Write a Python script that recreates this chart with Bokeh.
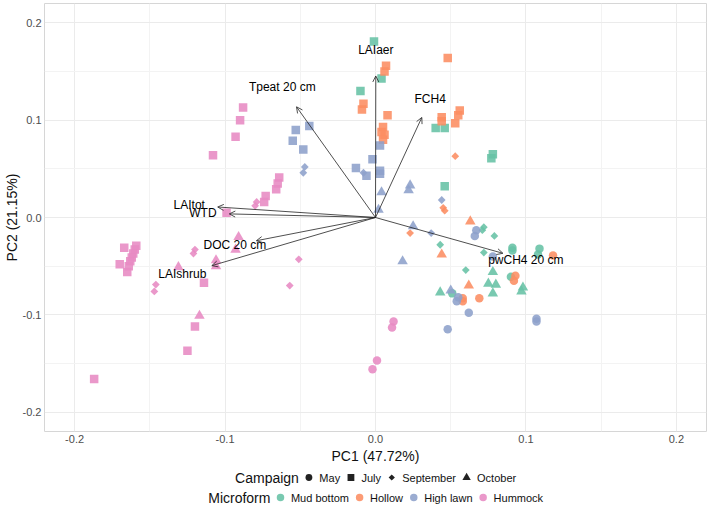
import math

from bokeh.core.properties import value
from bokeh.embed import file_html
from bokeh.layouts import column
from bokeh.models import (Arrow, ColumnDataSource, FixedTicker, OpenHead,
                          PrintfTickFormatter, Range1d)
from bokeh.plotting import figure
from bokeh.resources import INLINE

# ---------------------------------------------------------------- data
campaigns = ["May", "July", "September", "October"]
microforms = ["Mud bottom", "Hollow", "High lawn", "Hummock"]
microform_colors = ["#66C2A5", "#FC8D62", "#8DA0CB", "#E78AC3"]

mud_pc1 = [-0.001, 0.004, -0.010, 0.040, 0.046, 0.078, 0.077, 0.046,
           0.072, 0.071, 0.079, 0.043, 0.072, 0.060,
           0.091, 0.091, 0.109, 0.108, 0.090, 0.051,
           0.078, 0.075, 0.080, 0.078, 0.098, 0.097, 0.043]
mud_pc2 = [0.181, 0.143, 0.130, 0.092, 0.092, 0.065, 0.061, 0.032,
           -0.010, -0.013, -0.019, -0.028, -0.036, -0.054,
           -0.031, -0.034, -0.032, -0.038, -0.061, -0.078,
           -0.056, -0.068, -0.069, -0.078, -0.072, -0.076, -0.077]
mud_campaign = ["July", "July", "July", "July", "July", "July", "July", "July",
                "September", "September", "September", "September", "September", "September",
                "May", "May", "May", "May", "May", "May",
                "October", "October", "October", "October", "October", "October", "October"]

hollow_pc1 = [0.048, 0.007, 0.006, -0.008, -0.009, 0.008, 0.005, 0.004, 0.006, 0.005,
              0.044, 0.044, 0.056, 0.055, 0.053,
              0.053, 0.045, 0.046, 0.023,
              0.063, 0.044, 0.062,
              0.118, 0.093, 0.092, 0.058, 0.058, 0.069]
hollow_pc2 = [0.164, 0.156, 0.150, 0.117, 0.111, 0.105, 0.093, 0.088, 0.085, 0.080,
              0.103, 0.099, 0.110, 0.105, 0.097,
              0.063, 0.010, 0.007, -0.016,
              -0.004, -0.038, -0.070,
              -0.039, -0.060, -0.065, -0.083, -0.086, -0.083]
hollow_campaign = ["July", "July", "July", "July", "July", "July", "July", "July", "July", "July",
                   "July", "July", "July", "July", "July",
                   "September", "September", "September", "September",
                   "October", "October", "October",
                   "May", "May", "May", "May", "May", "May"]

lawn_pc1 = [-0.055, -0.053, -0.044, -0.048, 0.003, -0.002, -0.013, -0.006, 0.003, 0.003,
            -0.047, -0.048, -0.008, 0.044, 0.037,
            0.004, 0.023, 0.022, 0.002, 0.025, 0.018, 0.050,
            0.067, 0.066, 0.078, 0.054, 0.055, 0.062, 0.048, 0.107, 0.107]
lawn_pc2 = [0.079, 0.090, 0.094, 0.070, 0.074, 0.060, 0.051, 0.043, 0.048, 0.045,
            0.052, 0.046, 0.046, 0.018, -0.016,
            0.026, 0.033, 0.028, 0.008, -0.009, -0.045, -0.075,
            -0.013, -0.019, -0.040, -0.086, -0.082, -0.098, -0.115, -0.104, -0.107]
lawn_campaign = ["July", "July", "July", "July", "July", "July", "July", "July", "July", "July",
                 "September", "September", "September", "September", "September",
                 "October", "October", "October", "October", "October", "October", "October",
                 "May", "May", "May", "May", "May", "May", "May", "May", "May"]

hummock_pc1 = [-0.088, -0.090, -0.093, -0.108, -0.064, -0.065, -0.066, -0.073, -0.074, -0.099,
               -0.167, -0.159, -0.160, -0.161, -0.162, -0.163, -0.170, -0.164, -0.165,
               -0.114, -0.120, -0.125, -0.187,
               -0.079, -0.080, -0.120, -0.121, -0.146, -0.147, -0.051, -0.057,
               -0.091, -0.093, -0.106, -0.106, -0.131, -0.117,
               0.012, 0.011, 0.001, -0.002]
hummock_pc2 = [0.113, 0.100, 0.083, 0.064, 0.041, 0.035, 0.029, 0.022, 0.016, 0.005,
               -0.031, -0.029, -0.033, -0.037, -0.041, -0.045, -0.048, -0.050, -0.056,
               -0.067, -0.112, -0.137, -0.166,
               0.016, 0.012, -0.033, -0.037, -0.069, -0.076, -0.043, -0.070,
               -0.020, -0.033, -0.044, -0.050, -0.051, -0.101,
               -0.107, -0.113, -0.147, -0.156]
hummock_campaign = ["July", "July", "July", "July", "July", "July", "July", "July", "July", "July",
                    "July", "July", "July", "July", "July", "July", "July", "July", "July",
                    "July", "July", "July", "July",
                    "September", "September", "September", "September", "September", "September",
                    "September", "September",
                    "October", "October", "October", "October", "October", "October",
                    "May", "May", "May", "May"]

# variable loadings (arrow tips)
variables = ["LAIaer", "Tpeat 20 cm", "FCH4", "LAItot", "WTD",
             "DOC 20 cm", "LAIshrub", "pwCH4 20 cm"]
load_pc1 = [0.0002, -0.0525, 0.0308, -0.1049, -0.0972, -0.0792, -0.1088, 0.0847]
load_pc2 = [0.1455, 0.1138, 0.1029, 0.0108, 0.0037, -0.0239, -0.0495, -0.0368]

tick_values = [-0.2, -0.1, 0.0, 0.1, 0.2]
minor_tick_values = [-0.15, -0.05, 0.05, 0.15]

# ---------------------------------------------------------------- styling
FONT = "Liberation Sans"
LABEL_SCALE = 1.18
marker_style = {
    "May": dict(marker="circle", size=8.5, angle=0.0),
    "July": dict(marker="square", size=8.5, angle=0.0),
    "September": dict(marker="square", size=5.5, angle=math.pi / 4),
    "October": dict(marker="triangle", size=10.5, angle=0.0),
}

W, H_MAIN, H_LEG = 709, 466, 40
BORDER_L, BORDER_R = 40, 3

p = figure(width=W, height=H_MAIN,
           x_range=Range1d(-0.22, 0.22), y_range=Range1d(-0.22, 0.22),
           output_backend="svg", toolbar_location=None,
           min_border_left=BORDER_L, min_border_right=BORDER_R, min_border_top=3,
           min_border_bottom=30)
p.outline_line_color = "#d6d6d6"
p.outline_line_width = 1
p.background_fill_color = "white"
p.border_fill_color = "white"

for ax in (p.xaxis, p.yaxis):
    ax.ticker = FixedTicker(ticks=tick_values, minor_ticks=minor_tick_values)
    ax.formatter = PrintfTickFormatter(format="%.1f")
    ax.axis_line_color = None
    ax.major_tick_line_color = None
    ax.minor_tick_line_color = None
    ax.major_tick_out = 0
    ax.major_tick_in = 0
    ax.minor_tick_out = 0
    ax.minor_tick_in = 0
    ax.major_label_text_font = FONT
    ax.major_label_text_font_size = "11px"
    ax.major_label_text_color = "#4d4d4d"
    ax.major_label_standoff = 3
    ax.axis_label_text_font = FONT
    ax.axis_label_text_font_size = "14px"
    ax.axis_label_text_font_style = "normal"
    ax.axis_label_text_color = "#111111"
    ax.axis_label_standoff = 2
p.xaxis.axis_label = "PC1 (47.72%)"
p.yaxis.axis_label = "PC2 (21.15%)"
p.yaxis.major_label_standoff = 3
p.yaxis.axis_label_standoff = 0

for g in (p.xgrid, p.ygrid):
    g.grid_line_color = "#ebebeb"
    g.grid_line_width = 1
    g.minor_grid_line_color = "#f3f3f3"
    g.minor_grid_line_width = 1

# ---------------------------------------------------------------- points
groups = [
    ("Mud bottom", mud_pc1, mud_pc2, mud_campaign),
    ("Hollow", hollow_pc1, hollow_pc2, hollow_campaign),
    ("High lawn", lawn_pc1, lawn_pc2, lawn_campaign),
    ("Hummock", hummock_pc1, hummock_pc2, hummock_campaign),
]
for name, xs, ys, camps in groups:
    color = microform_colors[microforms.index(name)]
    for camp in campaigns:
        idx = [i for i, c in enumerate(camps) if c == camp]
        if not idx:
            continue
        src = ColumnDataSource(dict(x=[xs[i] for i in idx], y=[ys[i] for i in idx]))
        st = marker_style[camp]
        p.scatter("x", "y", source=src, marker=st["marker"], size=st["size"],
                  angle=st["angle"], fill_color=color, fill_alpha=0.88,
                  line_color=None)

# ---------------------------------------------------------------- loadings
arrow_src = ColumnDataSource(dict(x0=[0.0] * len(load_pc1), y0=[0.0] * len(load_pc2),
                                  x1=load_pc1, y1=load_pc2))
p.add_layout(Arrow(end=OpenHead(size=6, line_color="#222222", line_width=0.8),
                   x_start="x0", y_start="y0", x_end="x1", y_end="y1",
                   source=arrow_src, line_color="#222222", line_width=0.8))

label_src = ColumnDataSource(dict(x=[v * LABEL_SCALE for v in load_pc1],
                                  y=[v * LABEL_SCALE for v in load_pc2],
                                  text=variables))
p.text("x", "y", text="text", source=label_src, text_align="center",
       text_baseline="middle", text_font=value(FONT), text_font_size="12px",
       text_color="#000000")

# ---------------------------------------------------------------- legend strip
ARIAL = {'C': 722, 'a': 556, 'm': 833, 'p': 556, 'i': 222, 'g': 556, 'n': 556,
         'M': 833, 'y': 500, 'J': 500, 'u': 556, 'l': 222, 'S': 667, 'e': 556,
         't': 278, 'b': 556, 'r': 333, 'O': 778, 'c': 500, 'o': 556, 'f': 278,
         'd': 556, ' ': 278, 'H': 722, 'w': 722, 'h': 556, 'k': 500}


def text_width(s, px):
    return sum(ARIAL.get(ch, 556) for ch in s) * px / 1000.0


# the strip's frame lines up with the plot frame, so its x units are pixels
lf = figure(width=W, height=H_LEG,
            x_range=Range1d(BORDER_L, W - BORDER_R), y_range=Range1d(0, H_LEG),
            output_backend="svg", toolbar_location=None,
            x_axis_type=None, y_axis_type=None,
            min_border_left=BORDER_L, min_border_right=BORDER_R,
            min_border_top=0, min_border_bottom=0)
lf.outline_line_color = None
lf.grid.visible = False

panel_center = BORDER_L + (W - BORDER_L - BORDER_R) / 2.0
TITLE_PX, ITEM_PX = 14, 11
GAP_TITLE, KEY_W, GAP_LABEL, GAP_ITEM = 5.0, 11.0, 5.0, 5.5


def legend_row(title, labels, y_row, keys):
    total = text_width(title, TITLE_PX) + GAP_TITLE
    total += sum(KEY_W + GAP_LABEL + text_width(t, ITEM_PX) for t in labels)
    total += GAP_ITEM * (len(labels) - 1)
    x = panel_center - total / 2.0
    lf.text([x], [y_row], text=[title], text_align="left", text_baseline="middle",
            text_font=value(FONT), text_font_size=f"{TITLE_PX}px", text_color="#111111")
    x += text_width(title, TITLE_PX) + GAP_TITLE
    for lab, key in zip(labels, keys):
        lf.scatter([x + KEY_W / 2.0], [y_row], **key)
        x += KEY_W + GAP_LABEL
        lf.text([x], [y_row], text=[lab], text_align="left", text_baseline="middle",
                text_font=value(FONT), text_font_size=f"{ITEM_PX}px", text_color="#111111")
        x += text_width(lab, ITEM_PX) + GAP_ITEM


camp_keys = []
for camp in campaigns:
    st = marker_style[camp]
    camp_keys.append(dict(marker=st["marker"], size=st["size"] * 0.8, angle=st["angle"],
                          fill_color="#222222", line_color=None))
legend_row("Campaign", campaigns, H_LEG - 11, camp_keys)

micro_keys = [dict(marker="circle", size=7.5, fill_color=c, fill_alpha=0.88, line_color=None)
              for c in microform_colors]
legend_row("Microform", microforms, H_LEG - 31, micro_keys)

layout = column(p, lf, spacing=0)
open("out.html", "w").write(file_html(layout, INLINE))
